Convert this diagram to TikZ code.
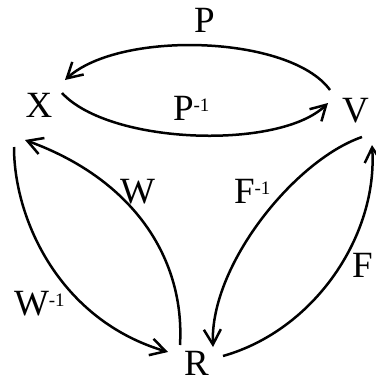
\documentclass[tikz,border=0pt]{standalone}
\usepackage{fontspec}
\setmainfont{Liberation Serif}
\usetikzlibrary{arrows.meta}
\newcommand{\inv}{\raisebox{9pt}{\fontsize{19}{19}\selectfont -1}}
\begin{document}
\begin{tikzpicture}[x=1pt,y=-1pt,
  lbl/.style={inner sep=0pt,outer sep=0pt,font=\fontsize{37}{42}\selectfont},
  vert/.style={lbl,anchor=base},
  edge/.style={line width=2.5pt,-{Straight Barb[length=15pt,width=17pt,line width=2.5pt]}}]
\useasboundingbox (0,0) rectangle (375,383);
\node[vert] (X) at (39,117) {X};
\node[vert] (V) at (355.5,122) {V};
\node[vert] (R) at (196.5,375) {R};
\node[lbl,anchor=base west] (lP) at (194,32) {P};
\node[lbl,anchor=base west] (lPi) at (173,120) {P\inv};
\node[lbl,anchor=base west] (lW) at (120,203) {W};
\node[lbl,anchor=base west] (lWi) at (14,315) {W\inv};
\node[lbl,anchor=base west] (lFi) at (234,203) {F\inv};
\node[lbl,anchor=base west] (lF) at (352,277) {F};
% P : V -> X
\draw[edge] ([shift={(-25.5,-32)}]V.base) .. controls (290,35) and (120,30) .. ([shift={(26,-37)}]X.base);
% P^-1 : X -> V
\draw[edge] ([shift={(23,-24)}]X.base) .. controls (110,145) and (280,150) .. ([shift={(-27.5,-19)}]V.base);
% W : R -> X
\draw[edge] ([shift={(-16.5,-30)}]R.base) .. controls (185,260) and (135,180) .. ([shift={(-14,23)}]X.base);
% W^-1 : X -> R
\draw[edge] ([shift={(-25,30)}]X.base) .. controls (14,220) and (60,320) .. ([shift={(-28.5,-23)}]R.base);
% F^-1 : V -> R
\draw[edge] ([shift={(6.5,15)}]V.base) .. controls (295,160) and (210,265) .. ([shift={(16.5,-28)}]R.base);
% F : R -> V
\draw[edge] ([shift={(26.5,-19)}]R.base) .. controls (315,330) and (378,235) .. ([shift={(16.5,23)}]V.base);
\end{tikzpicture}
\end{document}
